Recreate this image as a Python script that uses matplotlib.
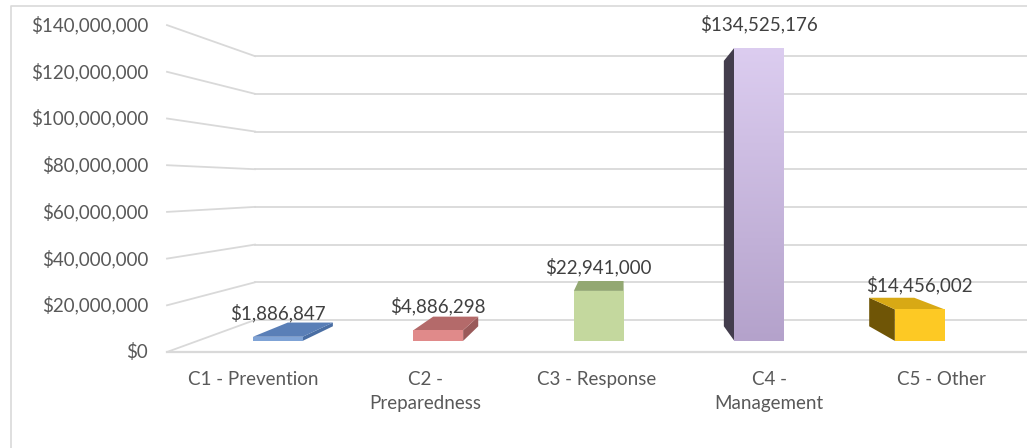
import numpy as np
import matplotlib.pyplot as plt
from matplotlib.patches import Polygon
from matplotlib.colors import LinearSegmentedColormap

plt.rcParams['font.family'] = ['Lato', 'DejaVu Sans']

categories = ["C1 - Prevention", "C2 -\nPreparedness", "C3 - Response",
              "C4 -\nManagement", "C5 - Other"]
values = [1886847, 4886298, 22941000, 134525176, 14456002]
tick_values = [0, 20000000, 40000000, 60000000, 80000000, 100000000,
               120000000, 140000000]

# face colours per bar: front, top, side
front_colors = ["#7fa3d6", "#e08a8a", "#c4d89e", "#c9b6e0", "#fdc924"]
top_colors = ["#5a7fb7", "#b46a6a", "#93a872", "#e2d4f2", "#d8a915"]
side_colors = ["#4a6ea3", "#9a5a5a", "#7d9160", "#433d4d", "#6f5506"]

W, H = 1027, 448
fig = plt.figure(figsize=(W / 100, H / 100), dpi=100)
ax = fig.add_axes([0, 0, 1, 1])
ax.set_xlim(0, W)
ax.set_ylim(H, 0)
ax.axis("off")

# perspective set-up in pixel space
vx, vy = 623.0, 186.0          # vanishing point
x0, x1 = 167.0, 1027.0         # category axis extent on the front plane
y0 = 352.0                     # value 0 on the front plane
px_per_val = 46.7 / 20000000
s_wall = 0.807                 # depth scale of back wall
s_front, s_back = 0.933, 0.845 # depth scale of bar faces
slot = (x1 - x0) / len(categories)
bar_w = 0.31 * slot
grid_col = "#d9d9d9"
text_col = "#595959"
fs = 13.5


def proj(X, Y, s):
    return vx + (X - vx) * s, vy + (Y - vy) * s


def yval(v):
    return y0 - v * px_per_val


# chart border
ax.plot([11, 11, W + 5], [H + 5, 6, 6], color=grid_col, lw=1.2, zorder=0)

# walls and floor grid
for tv in tick_values:
    Y = yval(tv)
    bx, by = proj(x0, Y, s_wall)
    ax.plot([x0, bx], [Y, by], color=grid_col, lw=1.3, zorder=1)
    ax.plot([bx, W + 5], [by, by], color=grid_col, lw=1.3, zorder=1)
    ax.text(x0 - 19, Y, "${:,.0f}".format(tv), ha="right", va="center",
            fontsize=fs, color=text_col)
ax.plot([x0, W + 5], [y0, y0], color=grid_col, lw=1.6, zorder=1)

# bars
for i, (cat, v) in enumerate(zip(categories, values)):
    cx = x0 + slot * (i + 0.5)
    L, R = cx - bar_w / 2, cx + bar_w / 2
    T, B = yval(v), y0
    fl, ft = proj(L, T, s_front)
    fr, fb = proj(R, B, s_front)
    bl, bt = proj(L, T, s_back)
    br, bb = proj(R, B, s_back)

    # side face facing the viewer
    if fl > vx:
        side = [(fl, ft), (bl, bt), (bl, bb), (fl, fb)]
    else:
        side = [(fr, ft), (br, bt), (br, bb), (fr, fb)]
    ax.add_patch(Polygon(side, closed=True, fc=side_colors[i], ec="none", zorder=3))

    # top face, visible when below eye level
    if ft > vy:
        top = [(fl, ft), (fr, ft), (br, bt), (bl, bt)]
        ax.add_patch(Polygon(top, closed=True, fc=top_colors[i], ec="none", zorder=3))

    front = Polygon([(fl, ft), (fr, ft), (fr, fb), (fl, fb)], closed=True,
                    fc=front_colors[i], ec="none", zorder=4)
    ax.add_patch(front)
    if i == 3:
        # vertical gradient on the tall bar
        grad = np.linspace(0, 1, 256).reshape(-1, 1)
        cmap = LinearSegmentedColormap.from_list("lav", ["#dccdf0", "#b4a2cb"])
        im = ax.imshow(grad, cmap=cmap, aspect="auto", extent=(fl, fr, fb, ft),
                       zorder=5)
        im.set_clip_path(front)
        ax.set_xlim(0, W)
        ax.set_ylim(H, 0)

    ax.text((fl + fr) / 2, ft - 24, "${:,.0f}".format(v), ha="center",
            va="center", fontsize=fs, color="#404040", zorder=6)

    ax.text(cx, 371, cat, ha="center", va="top", fontsize=fs,
            color=text_col, linespacing=1.5)

fig.savefig("out.png", dpi=100)
